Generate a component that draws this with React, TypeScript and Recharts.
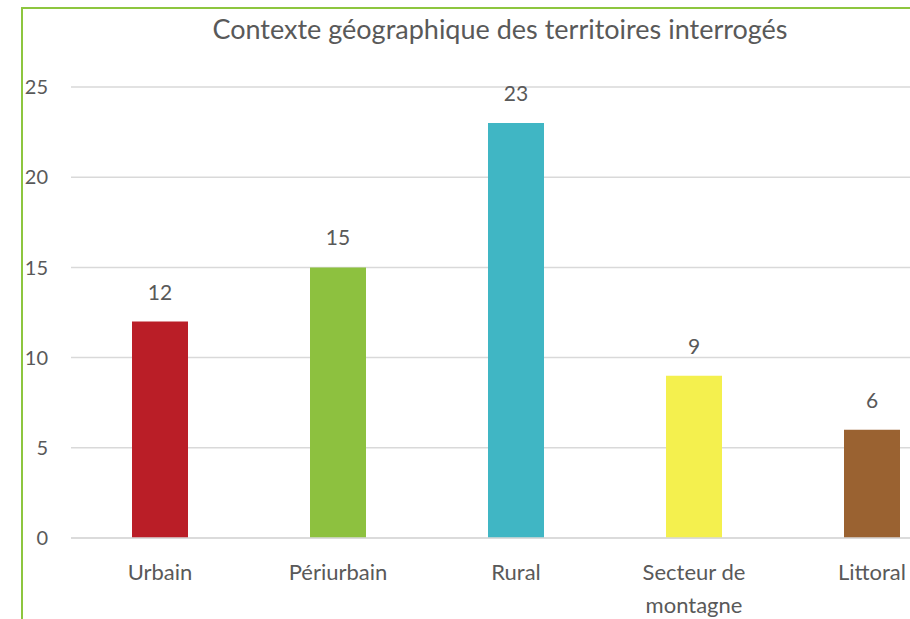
import React from "react";
import { BarChart, Bar, XAxis, YAxis, CartesianGrid, Cell, LabelList } from "recharts";

const categories = ["Urbain", "Périurbain", "Rural", "Secteur de montagne", "Littoral"];
const categoryLines = [["Urbain"], ["Périurbain"], ["Rural"], ["Secteur de", "montagne"], ["Littoral"]];
const counts = [12, 15, 23, 9, 6];
const colors = ["#BA1E27", "#8DC13F", "#40B6C4", "#F4F04E", "#9A6231"];
const yTicks = [0, 5, 10, 15, 20, 25];
const title = "Contexte géographique des territoires interrogés";

const data = categories.map((c, i) => ({ name: c, value: counts[i] }));

const FONT = "Lato, 'Open Sans', sans-serif";
const TEXT_COLOR = "#595959";

const CatTick = (props: any) => {
  const { x, y, payload } = props;
  const idx = categories.indexOf(payload.value);
  const lines = idx >= 0 ? categoryLines[idx] : [String(payload.value)];
  return (
    <text x={x} y={y + 42} textAnchor="middle" fill={TEXT_COLOR} fontSize={22} fontFamily={FONT}>
      {lines.map((l, i) => (
        <tspan key={i} x={x} dy={i === 0 ? 0 : 33}>
          {l}
        </tspan>
      ))}
    </text>
  );
};

export default function App() {
  return (
    <div style={{ position: "fixed", left: 0, top: 0, width: 910, height: 619, overflow: "hidden", background: "#fff" }}>
      <div
        style={{
          position: "absolute",
          left: 21,
          top: 7,
          right: -100,
          bottom: -100,
          borderLeft: "2px solid #8DC63F",
          borderTop: "2px solid #8DC63F",
        }}
      />
      <div
        style={{
          position: "absolute",
          left: 0,
          top: 12,
          width: 1000,
          textAlign: "center",
          fontFamily: FONT,
          fontSize: 27,
          lineHeight: "34px",
          color: TEXT_COLOR,
          whiteSpace: "nowrap",
        }}
      >
        {title}
      </div>
      <div style={{ position: "absolute", left: 0, top: 0 }}>
        <BarChart
          width={1000}
          height={619}
          data={data}
          margin={{ top: 87, right: 39, bottom: 0, left: 0 }}
          barCategoryGap={61}
        >
          <CartesianGrid vertical={false} stroke="#D9D9D9" strokeWidth={1.5} />
          <XAxis
            dataKey="name"
            axisLine={{ stroke: "#D9D9D9", strokeWidth: 1.5 }}
            tickLine={false}
            tickSize={0}
            tickMargin={0}
            interval={0}
            tick={<CatTick />}
            height={81}
          />
          <YAxis
            domain={[0, 25]}
            ticks={yTicks}
            width={71}
            axisLine={false}
            tickLine={false}
            tickSize={0}
            tickMargin={23}
            tick={{ fill: TEXT_COLOR, fontSize: 20, fontFamily: FONT }}
          />
          <Bar dataKey="value" isAnimationActive={false}>
            {data.map((d, i) => (
              <Cell key={d.name} fill={colors[i]} />
            ))}
            <LabelList
              dataKey="value"
              position="top"
              offset={22}
              fill={TEXT_COLOR}
              fontSize={21}
              fontFamily={FONT}
            />
          </Bar>
        </BarChart>
      </div>
    </div>
  );
}
